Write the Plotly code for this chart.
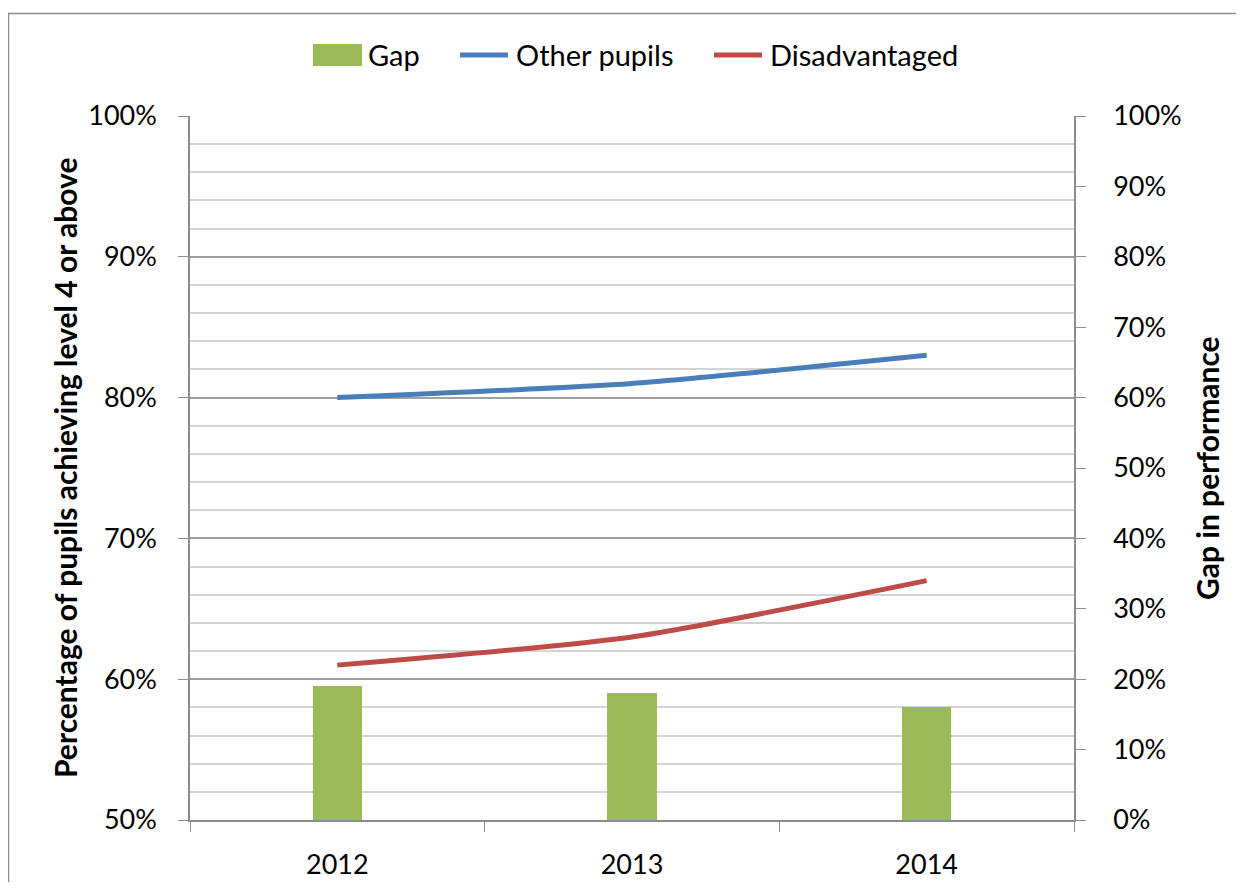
import plotly.graph_objects as go

years = ["2012", "2013", "2014"]
other_pupils = [80, 81, 83]
disadvantaged = [61, 63, 67]
gap = [19, 18, 16]

left_ticks = [50, 60, 70, 80, 90, 100]
right_ticks = [0, 10, 20, 30, 40, 50, 60, 70, 80, 90, 100]
series_names = ["Gap", "Other pupils", "Disadvantaged"]
series_colors = ["#9BBB59", "#4A7EBB", "#BE4B48"]

FONT = "Lato"
OFF = 8  # page body margin
PL, PR, PT, PB = 190, 1074, 116, 820  # plot area in screen px
W, H = 1244 - 2 * OFF, 890 - 2 * OFF
L, T = PL - OFF, PT - OFF
pw, ph = PR - PL, PB - PT
R = W - L - pw
B = H - T - ph


def xp(sx):
    return (sx - PL) / pw


def yp(sy):
    return (PB - sy) / ph


fig = go.Figure()
fig.add_trace(go.Bar(
    x=years, y=gap, name=series_names[0], yaxis="y2",
    marker=dict(color=series_colors[0], line=dict(width=0)), width=0.167,
))
fig.add_trace(go.Scatter(
    x=years, y=other_pupils, name=series_names[1], mode="lines",
    line=dict(color=series_colors[1], width=5, shape="spline", smoothing=0.6),
))
fig.add_trace(go.Scatter(
    x=years, y=disadvantaged, name=series_names[2], mode="lines",
    line=dict(color=series_colors[2], width=5, shape="spline", smoothing=0.6),
))

axis_line = "#8C8C8C"

# custom legend (matching the original wide swatches)
legend_swatch_x = [(313, 362), (458, 510), (712, 764)]
legend_y = 55
shapes = []
annotations = []
for i, (name, col, (x0, x1)) in enumerate(zip(series_names, series_colors, legend_swatch_x)):
    if i == 0:
        shapes.append(dict(type="rect", xref="paper", yref="paper",
                           x0=xp(x0), x1=xp(x1), y0=yp(legend_y + 11), y1=yp(legend_y - 11),
                           fillcolor=col, line=dict(width=0)))
    else:
        shapes.append(dict(type="line", xref="paper", yref="paper",
                           x0=xp(x0 + 2), x1=xp(x1 - 2), y0=yp(legend_y), y1=yp(legend_y),
                           line=dict(color=col, width=5)))
    annotations.append(dict(text=name, xref="paper", yref="paper", x=xp(x1 + 4), y=yp(legend_y),
                            xanchor="left", yanchor="middle", showarrow=False,
                            font=dict(size=29, family=FONT, color="#000000")))

# outer chart border (left and top edges visible)
shapes.append(dict(type="line", xref="paper", yref="paper",
                   x0=xp(8.5), x1=xp(8.5), y0=yp(13), y1=yp(900),
                   line=dict(color=axis_line, width=1.5)))
shapes.append(dict(type="line", xref="paper", yref="paper",
                   x0=xp(8), x1=xp(1260), y0=yp(13.5), y1=yp(13.5),
                   line=dict(color=axis_line, width=1.5)))

annotations += [
    dict(text="<b>Percentage of pupils achieving level 4 or above</b>", textangle=-90,
         xref="paper", yref="paper", x=xp(65), y=0.5, xanchor="center", yanchor="middle",
         showarrow=False, font=dict(size=30, family=FONT)),
    dict(text="<b>Gap in performance</b>", textangle=-90,
         xref="paper", yref="paper", x=xp(1207), y=0.5, xanchor="center", yanchor="middle",
         showarrow=False, font=dict(size=30, family=FONT)),
]

fig.update_layout(
    width=W, height=H,
    margin=dict(l=L, r=R, t=T, b=B, autoexpand=False),
    paper_bgcolor="white", plot_bgcolor="white",
    font=dict(family=FONT, size=27, color="#000000"),
    showlegend=False,
    bargap=0,
    xaxis=dict(
        type="category", tickson="boundaries", ticks="outside", ticklen=10,
        tickcolor=axis_line, showline=True, linecolor=axis_line, linewidth=1.5,
        showgrid=False, tickfont=dict(size=27), ticklabelstandoff=20,
    ),
    yaxis=dict(
        range=[50, 100], tickvals=left_ticks, ticktext=[f"{v}%" for v in left_ticks],
        ticks="outside", ticklen=10, tickcolor=axis_line,
        showline=True, linecolor=axis_line, linewidth=1.5,
        showgrid=True, gridcolor="#A0A0A0", gridwidth=1.5,
        minor=dict(dtick=2, tick0=50, showgrid=True, gridcolor="#D4D4D4", gridwidth=1.5, ticks=""),
        zeroline=False, tickfont=dict(size=27), ticklabelstandoff=16,
    ),
    yaxis2=dict(
        range=[0, 100], tickvals=right_ticks, ticktext=[f"{v}%" for v in right_ticks],
        overlaying="y", side="right",
        ticks="outside", ticklen=10, tickcolor=axis_line,
        showline=True, linecolor=axis_line, linewidth=1.5,
        showgrid=False, zeroline=False, tickfont=dict(size=27), ticklabelstandoff=22,
    ),
    shapes=shapes,
    annotations=annotations,
)

fig.write_html("out.html")
